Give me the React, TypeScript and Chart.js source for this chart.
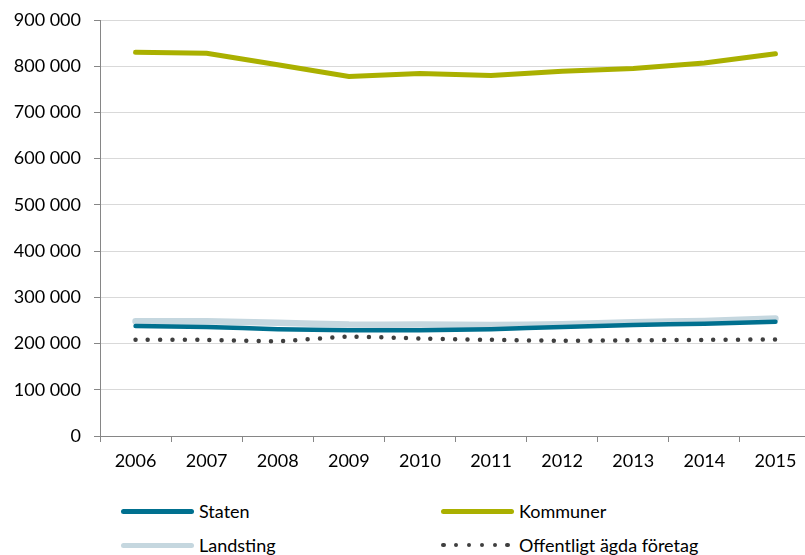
import React, { useEffect, useRef } from "react";
import { Chart, registerables } from "chart.js";

Chart.register(...registerables);

const years = ["2006", "2007", "2008", "2009", "2010", "2011", "2012", "2013", "2014", "2015"];
const staten = [238000, 236000, 231000, 229000, 229000, 231000, 236000, 240000, 243000, 247000];
const kommuner = [830000, 828000, 803000, 778000, 784000, 780000, 789000, 795000, 807000, 827000];
const landsting = [248000, 248000, 245000, 241000, 241000, 240000, 242000, 246000, 249000, 254000];
const foretag = [208000, 208000, 205000, 215000, 211000, 208000, 206000, 207000, 208000, 209000];
const yTicks = [0, 100000, 200000, 300000, 400000, 500000, 600000, 700000, 800000, 900000];

const FONT = "Lato, 'Open Sans', sans-serif";
const C_STATEN = "#00708F";
const C_KOMM = "#AAB000";
const C_LAND = "#C5D7DF";
const C_DOTS = "#3F3F3F";

const fmt = (v: number) => String(v).replace(/\B(?=(\d{3})+(?!\d))/g, " ");

export default function App() {
  const ref = useRef<HTMLCanvasElement | null>(null);
  useEffect(() => {
    if (!ref.current) return;
    const chart = new Chart(ref.current, {
      type: "line",
      data: {
        labels: years,
        datasets: [
          { label: "Staten", data: staten, borderColor: C_STATEN, borderWidth: 4.5, pointRadius: 0, borderCapStyle: "round", tension: 0.15 },
          { label: "Kommuner", data: kommuner, borderColor: C_KOMM, borderWidth: 5, pointRadius: 0, borderCapStyle: "round", tension: 0 },
          { label: "Landsting", data: landsting, borderColor: C_LAND, borderWidth: 6.5, pointRadius: 0, borderCapStyle: "round", tension: 0.15 },
          { label: "Offentligt ägda företag", data: foretag, borderColor: C_DOTS, borderWidth: 4.5, borderDash: [0, 12.3], borderCapStyle: "round", pointRadius: 0, tension: 0.15 },
        ],
      },
      options: {
        animation: false,
        responsive: false,
        maintainAspectRatio: false,
        layout: { padding: { top: 20, right: 1, left: 0, bottom: 0 } },
        plugins: { legend: { display: false }, tooltip: { enabled: false } },
        scales: {
          x: {
            type: "category",
            offset: true,
            grid: { display: true, drawOnChartArea: false, offset: true, tickLength: 6, tickColor: "#868686" },
            border: { color: "#868686", width: 1 },
            ticks: { color: "#000", font: { family: FONT, size: 18 }, padding: 8, maxRotation: 0, autoSkip: false },
            afterFit: (s: any) => { s.height = 44; },
          },
          y: {
            min: 0,
            max: 900000,
            afterBuildTicks: (s: any) => { s.ticks = yTicks.map((v) => ({ value: v })); },
            grid: { color: "#D9D9D9", lineWidth: 1, tickLength: 6, tickColor: "#868686" },
            border: { color: "#868686", width: 1 },
            ticks: { color: "#000", font: { family: FONT, size: 18 }, padding: 13, callback: (v: any) => fmt(Number(v)) },
            afterFit: (s: any) => { s.width = 100; s.paddingTop = 0; s.paddingBottom = 0; },
          },
        },
      },
    });
    return () => chart.destroy();
  }, []);

  const lineSample = (color: string) => (
    <div style={{ width: 73, height: 5, borderRadius: 3, background: color }} />
  );
  const dotSample = () => (
    <div style={{ width: 73, height: 5, display: "flex", justifyContent: "space-between", alignItems: "center", paddingRight: 4, boxSizing: "border-box" }}>
      {[0, 1, 2, 3, 4, 5].map((i) => (
        <span key={i} style={{ width: 4.5, height: 4.5, borderRadius: "50%", background: C_DOTS, display: "block" }} />
      ))}
    </div>
  );
  const item = (left: number, top: number, sample: React.ReactNode, text: string) => (
    <div style={{ position: "absolute", left, top, height: 24, display: "flex", alignItems: "center", gap: 5, fontFamily: FONT, fontSize: 18, color: "#000", whiteSpace: "nowrap" }}>
      {sample}
      <span>{text}</span>
    </div>
  );

  return (
    <div style={{ position: "fixed", left: 0, top: 0, width: 805, height: 555, overflow: "hidden", background: "#fff" }}>
      <canvas ref={ref} width={812} height={480} style={{ position: "absolute", left: 0, top: 0, width: 812, height: 480 }} />
      {item(121, 499, lineSample(C_STATEN), "Staten")}
      {item(441, 499, lineSample(C_KOMM), "Kommuner")}
      {item(121, 533, lineSample(C_LAND), "Landsting")}
      {item(441, 533, dotSample(), "Offentligt ägda företag")}
    </div>
  );
}
